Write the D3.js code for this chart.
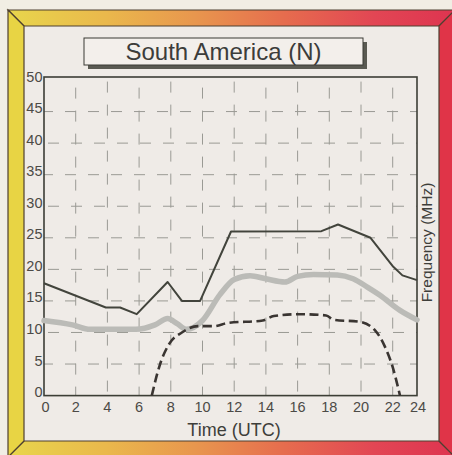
<!DOCTYPE html>
<html><head><meta charset="utf-8">
<script src="https://cdn.jsdelivr.net/npm/d3@7"></script>
<style>
html,body{margin:0;padding:0;background:#f1eee4;}
svg{display:block;font-family:"Liberation Sans",Arial,Helvetica,sans-serif;}
</style></head>
<body>
<script>
// ---- data ----
const chartTitle = "South America (N)";
const xTicks = [0,2,4,6,8,10,12,14,16,18,20,22,24];
const yTicks = [0,5,10,15,20,25,30,35,40,45,50];
// upper (dark solid) curve
const upperHours = [0,3.9,4.8,5.85,7.8,8.7,9.85,11.8,17.5,18.55,20.6,22.05,22.8,24];
const upperMHz   = [17.8,13.95,13.95,12.9,18,15.0,15.0,26.0,26.05,27.1,25.0,20.4,19.05,18.3];
// middle (thick grey) curve
const midHours = [0,1.8,2.9,5.8,7.0,7.8,8.4,9.0,10.0,11.1,12.0,13.0,14.0,15.2,16.0,17.0,18.5,19.5,20.4,21.2,22.6,24];
const midMHz   = [11.9,11.2,10.5,10.5,11.2,12.2,11.4,10.5,11.9,16.0,18.4,19.0,18.5,18.0,18.9,19.2,19.1,18.5,17.2,15.9,13.5,12.0];
// lower (dashed) curve
const lowerHours = [6.8,7.3,7.9,8.7,9.7,10.7,11.6,13.8,14.5,16.1,17.8,18.3,19.9,20.9,21.5,22.0,22.6];
const lowerMHz   = [0,4.8,8.2,10.0,11.0,11.0,11.5,11.9,12.6,12.9,12.7,12.0,11.7,10.3,7.8,4.5,0];

const W = 452, H = 455;
const svg = d3.select("body").append("svg").attr("width",W).attr("height",H);

// ---- frame ----
const defs = svg.append("defs");
const g1 = defs.append("linearGradient").attr("id","band").attr("gradientUnits","userSpaceOnUse")
  .attr("x1",8).attr("x2",455).attr("y1",0).attr("y2",0);
[[0,"#e8d64c"],[0.22,"#eab84c"],[0.42,"#e8964e"],[0.62,"#e66c4e"],[0.82,"#e24654"],[1,"#de3450"]]
  .forEach(s=>g1.append("stop").attr("offset",s[0]).attr("stop-color",s[1]));

const oL=8,oT=10,oR=455,oB=457,iL=24,iT=26,iR=439,iB=441;
svg.append("rect").attr("x",iL).attr("y",iT).attr("width",iR-iL).attr("height",iB-iT).attr("fill","#efebe7");
const line = d3.line();
const bandStroke = "#4e4030";
svg.append("path").attr("d",line([[oL,oT],[oR,oT],[iR,iT],[iL,iT]])+"Z").attr("fill","url(#band)").attr("stroke",bandStroke).attr("stroke-width",1.2);
svg.append("path").attr("d",line([[oL,oB],[oR,oB],[iR,iB],[iL,iB]])+"Z").attr("fill","url(#band)").attr("stroke",bandStroke).attr("stroke-width",1.2);
svg.append("path").attr("d",line([[oL,oT],[iL,iT],[iL,iB],[oL,oB]])+"Z").attr("fill","#e8d444").attr("stroke",bandStroke).attr("stroke-width",1.2);
svg.append("path").attr("d",line([[oR,oT],[iR,iT],[iR,iB],[oR,oB]])+"Z").attr("fill","#e03448").attr("stroke",bandStroke).attr("stroke-width",1.2);

// ---- title ----
const tb = {x:84,y:38,w:279,h:27};
svg.append("rect").attr("x",tb.x+4).attr("y",tb.y+4).attr("width",tb.w).attr("height",tb.h).attr("fill","#5a5a52");
svg.append("rect").attr("x",tb.x).attr("y",tb.y).attr("width",tb.w).attr("height",tb.h).attr("fill","#f3efeb").attr("stroke","#3a3a34").attr("stroke-width",1);
svg.append("text").attr("x",tb.x+tb.w/2).attr("y",59.5).attr("text-anchor","middle")
  .attr("font-size",24).attr("fill","#3c3c3a").text(chartTitle);

// ---- scales ----
const x = d3.scaleLinear().domain([0,22,24]).range([44,392.7,417]);
const y = d3.scaleLinear().domain([0,50]).range([395.6,80]);
const plotTop = 77;

// grid
const grid = svg.append("g").attr("stroke","#9a9a94").attr("stroke-width",1).attr("fill","none");
yTicks.filter(v=>v>0 && v<50).forEach((v,i)=>{
  grid.append("line").attr("x1",x(0)).attr("x2",x(24)).attr("y1",y(v)).attr("y2",y(v))
    .attr("stroke-dasharray","11,12").attr("stroke-dashoffset",(i%2)?-4:2);
});
xTicks.filter(v=>v>0 && v<24).forEach((v,i)=>{
  grid.append("line").attr("x1",x(v)).attr("x2",x(v)).attr("y1",y(0)).attr("y2",plotTop)
    .attr("stroke-dasharray","11,12").attr("stroke-dashoffset",(i%2)?-4:2);
});

// axes frame
svg.append("rect").attr("x",x(0)).attr("y",plotTop).attr("width",x(24)-x(0)).attr("height",y(0)-plotTop)
  .attr("fill","none").attr("stroke","#3c3e36").attr("stroke-width",1.6);

// tick labels
svg.append("g").selectAll("text").data(yTicks).join("text")
  .attr("x",42.5).attr("y",d=>y(d)+1.5).attr("text-anchor","end")
  .attr("font-size",14.5).attr("fill","#4c4a46").text(d=>d);
svg.append("g").selectAll("text").data(xTicks).join("text")
  .attr("x",d=>x(d)+(d===0?1.5:(d===24?1:0))).attr("y",412).attr("text-anchor","middle")
  .attr("font-size",14.5).attr("fill","#4c4a46").text(d=>d);

svg.append("text").attr("x",234).attr("y",436).attr("text-anchor","middle")
  .attr("font-size",18).attr("fill","#3e3e3a").text("Time (UTC)");
svg.append("text").attr("transform","translate(431.5,242.5) rotate(-90)").attr("text-anchor","middle")
  .attr("font-size",15.5).attr("fill","#3e3e3a").text("Frequency (MHz)");

// ---- curves ----
const zip = (a,b)=>a.map((h,i)=>[h,b[i]]);
const lineSmooth = d3.line().x(d=>x(d[0])).y(d=>y(d[1])).curve(d3.curveMonotoneX);
const lineStraight = d3.line().x(d=>x(d[0])).y(d=>y(d[1]));

svg.append("path").attr("d",lineSmooth(zip(midHours,midMHz))).attr("fill","none")
  .attr("stroke","#bbbbb7").attr("stroke-width",5.5).attr("stroke-linecap","round").attr("stroke-linejoin","round");
svg.append("path").attr("d",lineStraight(zip(upperHours,upperMHz))).attr("fill","none")
  .attr("stroke","#42443c").attr("stroke-width",2).attr("stroke-linejoin","round");
svg.append("path").attr("d",lineSmooth(zip(lowerHours,lowerMHz))).attr("fill","none")
  .attr("stroke","#3a3532").attr("stroke-width",2.6).attr("stroke-dasharray","9,4.5");
</script>
</body></html>
